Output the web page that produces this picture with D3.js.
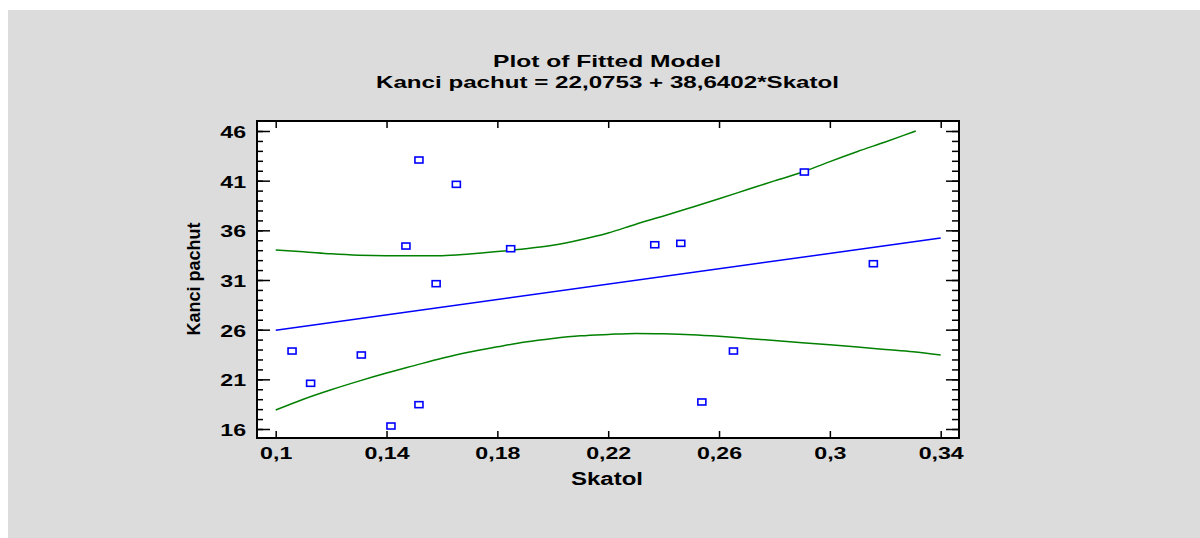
<!DOCTYPE html>
<html lang="en">
<head>
  <meta charset="UTF-8">
  <title>Plot of Fitted Model</title>
  <style>
    body { margin: 0; background: #fff; }
    svg text { font-family: "Liberation Sans", Arial, sans-serif; font-weight: bold; fill: #000; }
  </style>
</head>
<body>
<script src="https://cdn.jsdelivr.net/npm/d3@7"></script>
<script>
  // observed data (Skatol, Kanci pachut)
  var skatol = [0.1059, 0.1126, 0.1309, 0.1416, 0.1470, 0.1517, 0.1517, 0.1579, 0.1652, 0.1848, 0.2368, 0.2462, 0.2538, 0.2652, 0.2908, 0.3157]
  var kanci  = [23.85, 20.60, 23.45, 16.30, 34.42, 43.08, 18.45, 30.63, 40.63, 34.15, 34.55, 34.69, 18.72, 23.85, 41.87, 32.64]

  // fitted line
  var fitX = [0.10, 0.34]
  var fitY = [25.95, 35.22]

  // confidence limits
  var upperX = [0.10, 0.11, 0.12, 0.13, 0.14, 0.15, 0.16, 0.17, 0.18, 0.19, 0.20, 0.21, 0.22, 0.23, 0.24, 0.25, 0.26, 0.27, 0.28, 0.29, 0.30, 0.31, 0.32, 0.33, 0.331]
  var upperY = [34.02, 33.85, 33.64, 33.50, 33.45, 33.45, 33.45, 33.62, 33.86, 34.14, 34.50, 35.05, 35.74, 36.62, 37.44, 38.30, 39.18, 40.08, 40.98, 41.85, 42.92, 43.94, 44.90, 45.90, 46.00]
  var lowerX = [0.10, 0.11, 0.12, 0.13, 0.14, 0.15, 0.16, 0.17, 0.18, 0.19, 0.20, 0.21, 0.22, 0.23, 0.24, 0.25, 0.26, 0.27, 0.28, 0.29, 0.30, 0.31, 0.32, 0.33, 0.34]
  var lowerY = [17.91, 19.00, 19.95, 20.82, 21.63, 22.38, 23.12, 23.76, 24.27, 24.75, 25.11, 25.38, 25.52, 25.62, 25.58, 25.49, 25.33, 25.12, 24.90, 24.68, 24.48, 24.26, 24.01, 23.77, 23.45]

  var xTicks = [0.10, 0.14, 0.18, 0.22, 0.26, 0.30, 0.34]
  var yTicks = [16, 21, 26, 31, 36, 41, 46]
  var yMinor = d3.range(16, 47, 1)

  var width = 1200
  var height = 538
  var frame = {left: 257, right: 959, top: 121, bottom: 438}
  var sx = 1.45 // horizontal stretch of tick labels

  var fmt = d => String(+d.toFixed(2)).replace('.', ',')

  var xScale = d3.scaleLinear().domain([0.10, 0.34]).range([275.7, 940.7])
  var yScale = d3.scaleLinear().domain([16, 46]).range([429, 131])

  var svg = d3.select('body').append('svg')
    .attr('width', width)
    .attr('height', height)

  svg.append('rect')
    .attr('x', 8).attr('y', 10)
    .attr('width', width - 8).attr('height', height - 10)
    .attr('fill', '#dcdcdc')

  svg.append('rect')
    .attr('x', frame.left).attr('y', frame.top)
    .attr('width', frame.right - frame.left).attr('height', frame.bottom - frame.top)
    .attr('fill', '#fff')

  // titles
  svg.append('text')
    .attr('x', 607).attr('y', 66.5)
    .attr('text-anchor', 'middle')
    .attr('font-size', 16.5)
    .attr('textLength', 228).attr('lengthAdjust', 'spacingAndGlyphs')
    .text('Plot of Fitted Model')
  svg.append('text')
    .attr('x', 607.5).attr('y', 88)
    .attr('text-anchor', 'middle')
    .attr('font-size', 17)
    .attr('textLength', 463).attr('lengthAdjust', 'spacingAndGlyphs')
    .text('Kanci pachut = 22,0753 + 38,6402*Skatol')

  // axis titles
  svg.append('text')
    .attr('x', 607).attr('y', 485)
    .attr('text-anchor', 'middle')
    .attr('font-size', 18)
    .attr('textLength', 72).attr('lengthAdjust', 'spacingAndGlyphs')
    .text('Skatol')
  svg.append('text')
    .attr('transform', 'translate(199.5,279) rotate(-90)')
    .attr('text-anchor', 'middle')
    .attr('font-size', 18)
    .text('Kanci pachut')

  // axes, ticks pointing inward
  function styleAxis(g) {
    g.select('.domain').remove()
    g.selectAll('line').attr('stroke', '#000').attr('stroke-width', 1.5)
    g.selectAll('text')
      .attr('font-size', 16)
      .attr('font-family', '"Liberation Sans", Arial, sans-serif')
      .attr('font-weight', 'bold')
      .attr('transform', `scale(${sx},1)`)
  }

  svg.append('g')
    .attr('transform', `translate(${frame.left},0)`)
    .call(d3.axisLeft(yScale).tickValues(yMinor).tickSize(-6).tickFormat(''))
    .call(styleAxis)
  svg.append('g')
    .attr('transform', `translate(${frame.left},0)`)
    .call(d3.axisLeft(yScale).tickValues(yTicks).tickSize(-13).tickPadding(7.5).tickFormat(d3.format('d')))
    .call(styleAxis)
    .selectAll('text').attr('dy', '0.4em')

  svg.append('g')
    .attr('transform', `translate(${frame.right},0)`)
    .call(d3.axisRight(yScale).tickValues(yMinor).tickSize(-7).tickFormat(''))
    .call(styleAxis)
  svg.append('g')
    .attr('transform', `translate(${frame.right},0)`)
    .call(d3.axisRight(yScale).tickValues(yTicks).tickSize(-13).tickFormat(''))
    .call(styleAxis)

  svg.append('g')
    .attr('transform', `translate(0,${frame.bottom})`)
    .call(d3.axisBottom(xScale).tickValues(xTicks).tickSize(-7).tickPadding(9.5).tickFormat(fmt))
    .call(styleAxis)
  svg.append('g')
    .attr('transform', `translate(0,${frame.top})`)
    .call(d3.axisTop(xScale).tickValues(xTicks).tickSize(-7).tickFormat(''))
    .call(styleAxis)

  // curves
  var line = d3.line()
    .x(d => xScale(d[0]))
    .y(d => yScale(d[1]))
    .curve(d3.curveMonotoneX)

  var curves = [
    {pts: d3.zip(upperX, upperY), color: '#008000'},
    {pts: d3.zip(lowerX, lowerY), color: '#008000'},
    {pts: d3.zip(fitX, fitY), color: '#0000ff'}
  ]
  svg.append('g').selectAll('path')
    .data(curves)
    .enter()
    .append('path')
    .attr('d', d => line(d.pts))
    .attr('fill', 'none')
    .attr('stroke', d => d.color)
    .attr('stroke-width', 1.5)

  // observations
  svg.append('g').selectAll('rect')
    .data(d3.zip(skatol, kanci))
    .enter()
    .append('rect')
    .attr('x', d => xScale(d[0]) - 4)
    .attr('y', d => yScale(d[1]) - 3)
    .attr('width', 8)
    .attr('height', 6)
    .attr('fill', '#fff')
    .attr('stroke', '#0000ff')
    .attr('stroke-width', 1.6)

  // frame
  svg.append('rect')
    .attr('x', frame.left).attr('y', frame.top)
    .attr('width', frame.right - frame.left).attr('height', frame.bottom - frame.top)
    .attr('fill', 'none')
    .attr('stroke', '#000')
    .attr('stroke-width', 2)
</script>
</body>
</html>
